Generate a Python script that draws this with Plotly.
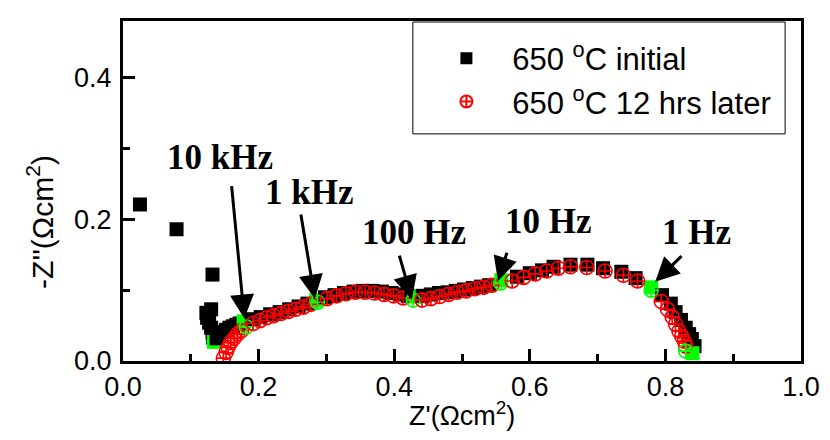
import plotly.graph_objects as go

# ---- data ----
init_x = [0.025, 0.079, 0.132, 0.130, 0.123, 0.124, 0.127, 0.130, 0.132, 0.133, 0.134,
          0.138, 0.142, 0.147, 0.152, 0.157, 0.162, 0.167, 0.172, 0.178,
          0.190, 0.203, 0.217, 0.231, 0.245, 0.259, 0.272, 0.285,
          0.298, 0.312, 0.326, 0.340, 0.354, 0.368, 0.382, 0.396, 0.410, 0.420, 0.430,
          0.442, 0.454, 0.466, 0.479, 0.491, 0.503, 0.516, 0.528, 0.540, 0.558,
          0.581, 0.600, 0.618, 0.635, 0.660, 0.685, 0.708, 0.735, 0.756, 0.779,
          0.795, 0.808, 0.815, 0.823, 0.830, 0.835, 0.839, 0.843, 0.840]
init_y = [0.221, 0.186, 0.122, 0.073, 0.068, 0.061, 0.054, 0.047, 0.040, 0.033, 0.027,
          0.032, 0.037, 0.041, 0.044, 0.047, 0.049, 0.051, 0.053, 0.056,
          0.059, 0.062, 0.066, 0.069, 0.073, 0.077, 0.081, 0.086,
          0.090, 0.093, 0.096, 0.098, 0.099, 0.099, 0.098, 0.096, 0.094, 0.092, 0.091,
          0.092, 0.094, 0.096, 0.097, 0.099, 0.101, 0.103, 0.105, 0.107, 0.114,
          0.119, 0.124, 0.128, 0.133, 0.136, 0.136, 0.131, 0.126, 0.117, 0.104,
          0.093, 0.081, 0.069, 0.058, 0.047, 0.038, 0.031, 0.021, 0.011]
init_marked = [10, 19, 27, 38, 48, 58, 67]   # 100 kHz, 10 kHz, 1 kHz, 100 Hz, 10 Hz, 1 Hz, 0.1 Hz

later_x = [0.148, 0.152, 0.155, 0.159, 0.164, 0.169, 0.175, 0.182,
           0.192, 0.202, 0.212, 0.222, 0.233, 0.244, 0.255, 0.266, 0.277, 0.287,
           0.301, 0.315, 0.329, 0.343, 0.357, 0.371, 0.385, 0.399, 0.413, 0.428,
           0.441, 0.454, 0.467, 0.480, 0.493, 0.506, 0.519, 0.532, 0.544, 0.557,
           0.574, 0.591, 0.608, 0.625, 0.642, 0.660, 0.684, 0.711, 0.738, 0.759, 0.779,
           0.794, 0.803, 0.810, 0.815, 0.820, 0.824, 0.828, 0.830, 0.830]
later_y = [0.004, 0.012, 0.019, 0.026, 0.032, 0.038, 0.043, 0.048,
           0.053, 0.057, 0.061, 0.064, 0.067, 0.070, 0.073, 0.076, 0.080, 0.083,
           0.088, 0.092, 0.095, 0.097, 0.097, 0.096, 0.094, 0.092, 0.089, 0.086,
           0.086, 0.088, 0.091, 0.094, 0.097, 0.099, 0.102, 0.104, 0.107, 0.110,
           0.113, 0.118, 0.123, 0.127, 0.131, 0.133, 0.132, 0.127, 0.121, 0.113, 0.100,
           0.084, 0.073, 0.062, 0.052, 0.042, 0.035, 0.028, 0.021, 0.014]
later_marked = [7, 17, 27, 37, 48, 57]

freq_labels = ["10 kHz", "1 kHz", "100 Hz", "10 Hz", "1 Hz"]
label_x = [0.1435, 0.275, 0.429, 0.628, 0.846]
label_y = [0.287, 0.238, 0.181, 0.197, 0.181]
arrow_tail_x = [0.160, 0.262, 0.407, 0.567, 0.826]
arrow_tail_y = [0.249, 0.209, 0.151, 0.155, 0.150]
arrow_tip_x = [0.179, 0.283, 0.426, 0.553, 0.785]
arrow_tip_y = [0.060, 0.088, 0.087, 0.113, 0.112]

x_ticks = [0.0, 0.2, 0.4, 0.6, 0.8, 1.0]
y_ticks = [0.0, 0.2, 0.4]

GREEN = "#00ff00"
init_colors = [GREEN if i in init_marked else "black" for i in range(len(init_x))]
later_colors = [GREEN if i in later_marked else "red" for i in range(len(later_x))]

SANS = "Arial, Liberation Sans, sans-serif"
SERIF = "Times New Roman, Liberation Serif, serif"
PAD = "\u00a0\u00a0\u00a0"

fig = go.Figure()
fig.add_trace(go.Scatter(
    x=init_x, y=init_y, mode="markers", name=PAD + "650 <sup>o</sup>C initial",
    marker=dict(symbol="square", size=14, color=init_colors, line=dict(width=0))))
fig.add_trace(go.Scatter(
    x=later_x, y=later_y, mode="markers", name=PAD + "650 <sup>o</sup>C 12 hrs later",
    marker=dict(symbol="circle-cross-open", size=14, color=later_colors, line=dict(width=1.6))))

annotations = []
for t, lx, ly in zip(freq_labels, label_x, label_y):
    annotations.append(dict(x=lx, y=ly, xref="x", yref="y", text="<b>" + t + "</b>", showarrow=False,
                            font=dict(family=SERIF, size=35, color="black"),
                            xanchor="center", yanchor="middle"))
for tx, ty, hx, hy in zip(arrow_tail_x, arrow_tail_y, arrow_tip_x, arrow_tip_y):
    annotations.append(dict(x=hx, y=hy, xref="x", yref="y", ax=tx, ay=ty, axref="x", ayref="y",
                            text="", showarrow=True, arrowhead=2, arrowsize=1.6, arrowwidth=3,
                            arrowcolor="black", standoff=0, startstandoff=0))
annotations.append(dict(x=-0.1215, y=0.408, xref="paper", yref="paper", text="-Z''(Ωcm<sup>2</sup>)",
                        textangle=-90, showarrow=False, font=dict(family=SANS, size=30, color="black"),
                        xanchor="center", yanchor="middle"))
annotations.append(dict(x=0.5, y=-0.155, xref="paper", yref="paper", text="Z'(Ωcm<sup>2</sup>)",
                        showarrow=False, font=dict(family=SANS, size=27, color="black"),
                        xanchor="center", yanchor="middle"))

fig.update_layout(
    width=822, height=432,
    margin=dict(l=115, r=24, t=10, b=79),
    paper_bgcolor="white", plot_bgcolor="white",
    showlegend=True,
    legend=dict(x=0.477, y=0.969, xanchor="left", yanchor="top",
                font=dict(family=SANS, size=31, color="black"),
                bgcolor="rgba(0,0,0,0)", borderwidth=0, itemsizing="constant"),
    annotations=annotations,
    shapes=[dict(type="rect", xref="paper", yref="paper", x0=0.4275, x1=0.9766, y0=0.668, y1=0.997,
                 line=dict(color="black", width=1), fillcolor="rgba(0,0,0,0)", layer="above")],
)
fig.update_xaxes(range=[0, 1], tickvals=x_ticks, ticktext=[f"{v:.1f}" for v in x_ticks],
                 ticks="inside", ticklen=12, tickwidth=2.5, tickcolor="black",
                 minor=dict(ticks="inside", ticklen=7, tickwidth=2.5, dtick=0.1, tickcolor="black"),
                 showline=True, linewidth=3, linecolor="black", mirror=True,
                 showgrid=False, zeroline=False, ticklabelstandoff=0,
                 tickfont=dict(family=SANS, size=27, color="black"))
fig.update_yaxes(range=[0, 0.48], tickvals=y_ticks, ticktext=[f"{v:.1f}" for v in y_ticks],
                 ticks="inside", ticklen=12, tickwidth=2.5, tickcolor="black",
                 minor=dict(ticks="inside", ticklen=7, tickwidth=2.5, dtick=0.1, tickcolor="black"),
                 showline=True, linewidth=3, linecolor="black", mirror=True,
                 showgrid=False, zeroline=False, ticklabelstandoff=3,
                 tickfont=dict(family=SANS, size=27, color="black"))

fig.write_html("out.html")
